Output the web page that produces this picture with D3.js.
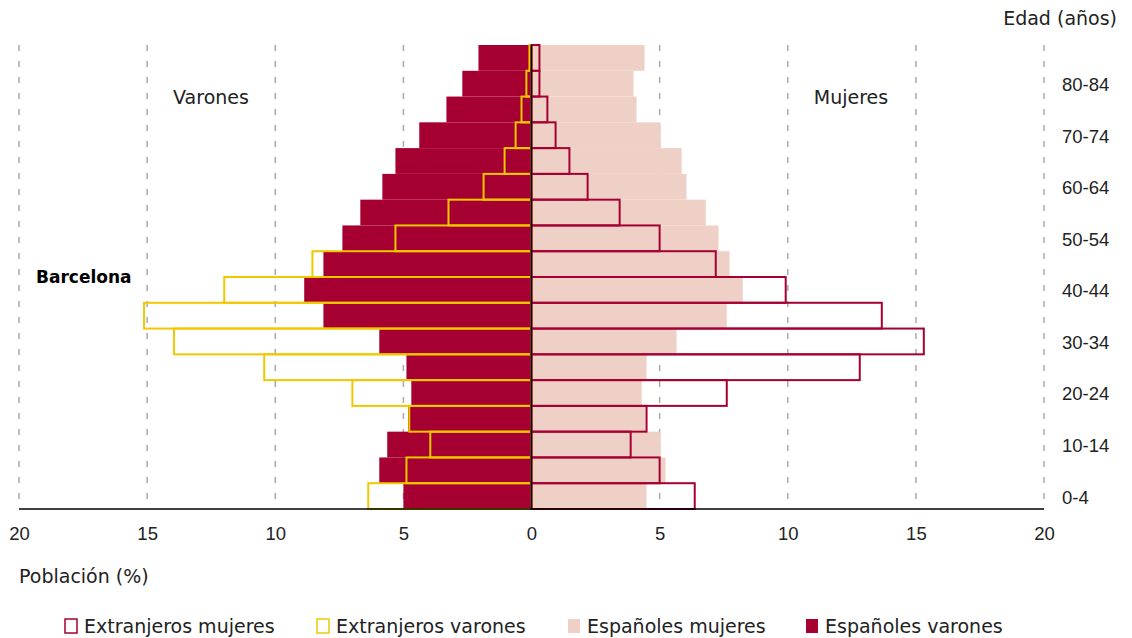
<!DOCTYPE html>
<html>
<head>
<meta charset="utf-8">
<script src="https://cdn.jsdelivr.net/npm/d3@7"></script>
<style>
  body { margin: 0; background: #fff; }
  svg { font-family: Verdana, "DejaVu Sans", sans-serif; }
  .axis .domain { display: none; }
  .axis text { font-size: 18.5px; fill: #222; }
</style>
</head>
<body>
<script>
// age groups, bottom to top
const ages = ["0-4", "5-9", "10-14", "15-19", "20-24", "25-29", "30-34", "35-39", "40-44",
  "45-49", "50-54", "55-59", "60-64", "65-69", "70-74", "75-79", "80-84", "85+"];

// percentages per age group (same order as ages)
const espVarones = [5.0, 5.94, 5.63, 4.82, 4.69, 4.88, 5.94, 8.12, 8.87, 8.12, 7.38, 6.68, 5.82, 5.31, 4.38, 3.32, 2.7, 2.07];
const extVarones = [6.37, 4.88, 3.95, 4.77, 6.99, 10.43, 13.95, 15.12, 11.99, 8.55, 5.31, 3.24, 1.87, 1.05, 0.62, 0.39, 0.2, 0.08];
const espMujeres = [4.49, 5.23, 5.04, 4.45, 4.3, 4.49, 5.66, 7.62, 8.24, 7.73, 7.3, 6.8, 6.05, 5.86, 5.04, 4.1, 3.98, 4.41];
const extMujeres = [6.37, 5.0, 3.87, 4.49, 7.62, 12.81, 15.31, 13.67, 9.92, 7.19, 5.0, 3.44, 2.19, 1.48, 0.94, 0.62, 0.31, 0.31];

const xTicks = [-20, -15, -10, -5, 0, 5, 10, 15, 20];
const ageLabels = ["0-4", "10-14", "20-24", "30-34", "40-44", "50-54", "60-64", "70-74", "80-84"];

const crimson = "#a50031";
const pink = "#efd0c7";
const yellow = "#f0c800";

const width = 1132, height = 638;
const svg = d3.select("body").append("svg")
  .attr("width", width)
  .attr("height", height);

const x = d3.scaleLinear().domain([-20, 20]).range([19, 1044]);
const y = d3.scaleBand().domain(ages.slice().reverse()).range([45, 509]).padding(0);

// dashed grid lines
svg.append("g")
  .selectAll("line")
  .data(xTicks.filter((d) => d !== 0))
  .join("line")
  .attr("x1", (d) => x(d))
  .attr("x2", (d) => x(d))
  .attr("y1", 45)
  .attr("y2", 509)
  .attr("stroke", "#aaa")
  .attr("stroke-width", 1.5)
  .attr("stroke-dasharray", "6,10");

const rows = ages.map((a, i) => ({
  age: a,
  espV: espVarones[i],
  extV: extVarones[i],
  espM: espMujeres[i],
  extM: extMujeres[i],
}));

// filled bars: españoles
svg.append("g")
  .selectAll("rect")
  .data(rows)
  .join("rect")
  .attr("x", x(0))
  .attr("y", (d) => y(d.age))
  .attr("width", (d) => x(d.espM) - x(0))
  .attr("height", y.bandwidth())
  .attr("fill", pink);

svg.append("g")
  .selectAll("rect")
  .data(rows)
  .join("rect")
  .attr("x", (d) => x(-d.espV))
  .attr("y", (d) => y(d.age))
  .attr("width", (d) => x(0) - x(-d.espV))
  .attr("height", y.bandwidth())
  .attr("fill", crimson);

// outlined bars: extranjeros
svg.append("g")
  .selectAll("rect")
  .data(rows)
  .join("rect")
  .attr("x", (d) => x(-d.extV))
  .attr("y", (d) => y(d.age))
  .attr("width", (d) => x(0) - x(-d.extV))
  .attr("height", y.bandwidth())
  .attr("fill", "none")
  .attr("stroke", yellow)
  .attr("stroke-width", 2);

svg.append("g")
  .selectAll("rect")
  .data(rows)
  .join("rect")
  .attr("x", x(0))
  .attr("y", (d) => y(d.age))
  .attr("width", (d) => x(d.extM) - x(0))
  .attr("height", y.bandwidth())
  .attr("fill", "none")
  .attr("stroke", crimson)
  .attr("stroke-width", 2);

// centre line
svg.append("line")
  .attr("x1", x(0)).attr("x2", x(0))
  .attr("y1", 45).attr("y2", 509)
  .attr("stroke", "#000")
  .attr("stroke-width", 1.5);

// bottom axis
svg.append("g")
  .attr("class", "axis")
  .attr("transform", "translate(0,509)")
  .call(d3.axisBottom(x).tickValues(xTicks).tickSize(0).tickPadding(18).tickFormat((d) => Math.abs(d)));

svg.append("line")
  .attr("x1", x(-20)).attr("x2", x(20))
  .attr("y1", 509).attr("y2", 509)
  .attr("stroke", "#000")
  .attr("stroke-width", 1.5);

// right age axis
svg.append("g")
  .attr("class", "axis")
  .attr("transform", `translate(${x(20)},0)`)
  .call(d3.axisRight(y).tickValues(ageLabels).tickSize(0).tickPadding(18))
  .selectAll("text")
  .attr("dy", "0.4em");

// labels
const label = (tx, ty, txt, anchor, weight) => svg.append("text")
  .attr("x", tx).attr("y", ty)
  .attr("text-anchor", anchor || "start")
  .attr("font-size", 19)
  .attr("font-weight", weight || "normal")
  .attr("fill", "#222")
  .text(txt);

label(1117, 25, "Edad (años)", "end");
label(211, 104, "Varones", "middle");
label(851, 104, "Mujeres", "middle");
label(36, 283, "Barcelona", "start", "bold").attr("font-size", 17).attr("fill", "#000");
label(19, 583, "Población (%)");

// legend
const legendItems = [
  { name: "Extranjeros mujeres", fill: "none", stroke: crimson, x: 64 },
  { name: "Extranjeros varones", fill: "none", stroke: yellow, x: 316 },
  { name: "Españoles mujeres", fill: pink, stroke: "none", x: 567 },
  { name: "Españoles varones", fill: crimson, stroke: "none", x: 805 },
];

const lg = svg.append("g")
  .selectAll("g")
  .data(legendItems)
  .join("g")
  .attr("transform", (d) => `translate(${d.x},618)`);

lg.append("rect")
  .attr("x", 1).attr("y", 1)
  .attr("width", 12).attr("height", 14)
  .attr("fill", (d) => d.fill)
  .attr("stroke", (d) => d.stroke)
  .attr("stroke-width", 1.5);

lg.append("text")
  .attr("x", 20)
  .attr("y", 15)
  .attr("font-size", 19)
  .attr("fill", "#222")
  .text((d) => d.name);
</script>
</body>
</html>
